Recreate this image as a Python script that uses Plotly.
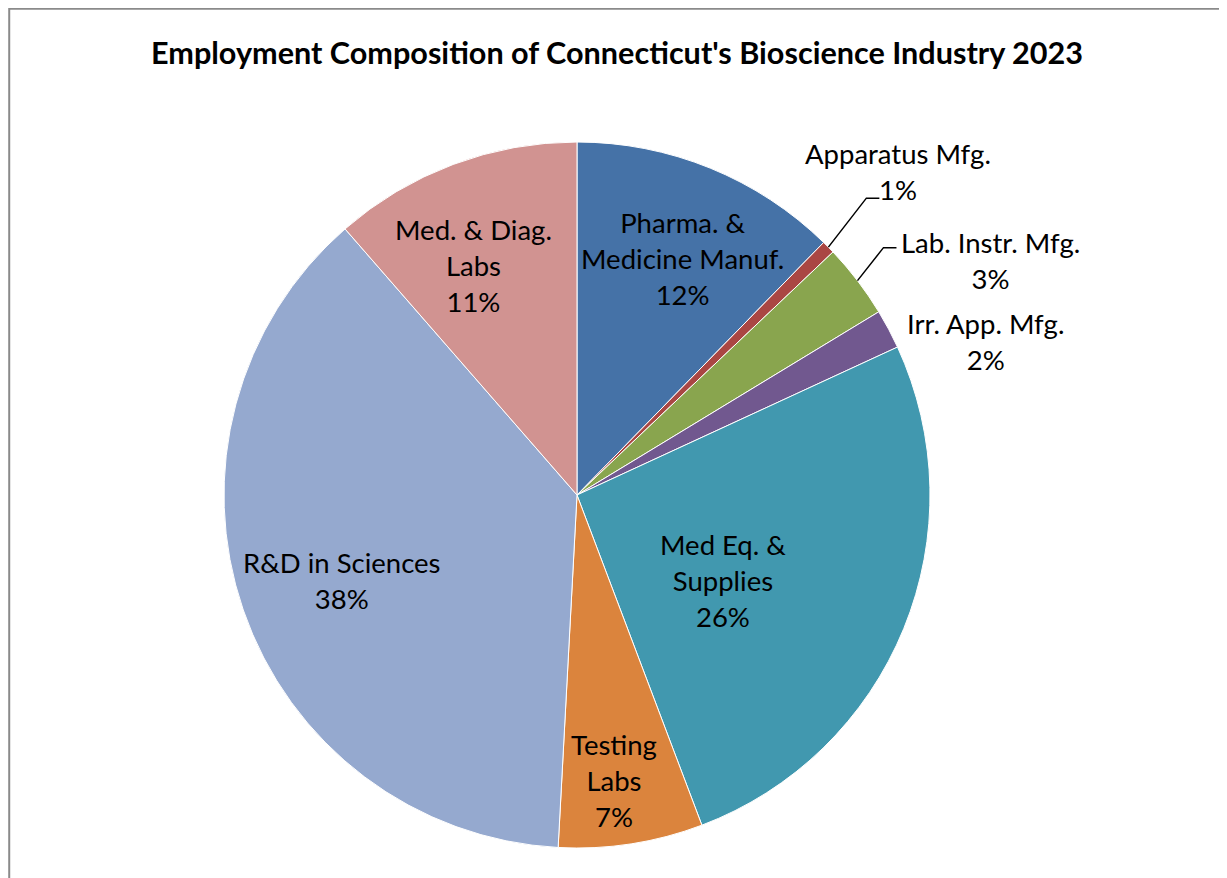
import math
import plotly.graph_objects as go

# employment share by sector (percent), clockwise from 12 o'clock
labels = [
    "Pharma. &<br>Medicine Manuf.",
    "Apparatus Mfg.",
    "Lab. Instr. Mfg.",
    "Irr. App. Mfg.",
    "Med Eq. &<br>Supplies",
    "Testing<br>Labs",
    "R&D in Sciences",
    "Med. & Diag.<br>Labs",
]
shares = [12.3, 0.6, 3.4, 1.8, 26.1, 6.6, 37.7, 11.4]
colors = ["#4572A7", "#AA4643", "#89A54E", "#71588F",
          "#4198AF", "#DB843D", "#95A9CF", "#D19391"]

# the page body adds an 8px margin, so the figure is drawn 8px in
OFF = 8
W, H = 1227 - OFF, 878 - OFF
CX, CY, R = 577, 495, 353  # pie centre / radius in screen px

# label placement: radius factor and angle nudge (deg) per slice
label_r = [0.735, 1.29, 1.346, 1.235, 0.48, 0.816, 0.708, 0.714]
label_da = [1.9, -0.6, 7.8, 7.4, 8.2, 1.4, -0.9, -3.6]
leader = [False, True, True, False, False, False, False, False]
leader_off = {1: (38, -49), 2: (26, -33)}

FONT = "Lato, Carlito, Calibri, sans-serif"


def px_to_paper(x, y):
    return (x - OFF) / W, 1 - (y - OFF) / H


x0, y1 = px_to_paper(CX - R, CY - R)
x1, y0 = px_to_paper(CX + R, CY + R)

fig = go.Figure(
    go.Pie(
        labels=[l.replace("<br>", " ") for l in labels],
        values=shares,
        sort=False,
        direction="clockwise",
        rotation=0,
        marker=dict(colors=colors, line=dict(color="white", width=1)),
        textinfo="none",
        hoverinfo="label+percent",
        showlegend=False,
        domain=dict(x=[x0, x1], y=[y0, y1]),
    )
)

total = sum(shares)
annotations = []
shapes = []
cum = 0
for i, (lab, v) in enumerate(zip(labels, shares)):
    mid = (cum + v / 2) / total * 360
    cum += v
    pct = f"{round(v / total * 100)}%"
    ang = math.radians(mid + label_da[i])
    lx = CX + R * label_r[i] * math.sin(ang)
    ly = CY - R * label_r[i] * math.cos(ang)
    px, py = px_to_paper(lx, ly)
    annotations.append(dict(
        x=px, y=py, xref="paper", yref="paper", showarrow=False,
        xanchor="center", yanchor="middle",
        text=f"{lab}<br>{pct}", align="center",
        font=dict(family=FONT, size=27.5, color="black"),
    ))
    if leader[i]:
        m = math.radians(mid)
        sx = CX + R * math.sin(m)
        sy = CY - R * math.cos(m)
        ox, oy = leader_off[i]
        ex, ey = sx + ox, sy + oy
        pts = [px_to_paper(sx, sy), px_to_paper(ex, ey), px_to_paper(ex + 13, ey)]
        path = "M {} {} L {} {} L {} {}".format(*[c for p in pts for c in p])
        shapes.append(dict(type="path", xref="paper", yref="paper", path=path,
                           line=dict(color="black", width=1.5)))

# chart frame (clipped at right/bottom like the source)
shapes.append(dict(type="rect", xref="paper", yref="paper",
                   x0=0.001, x1=1.02, y0=-0.02, y1=0.999,
                   line=dict(color="#8a8a8a", width=2)))

tx, ty = px_to_paper(617, 53)
fig.update_layout(
    width=W, height=H,
    margin=dict(l=0, r=0, t=0, b=0),
    paper_bgcolor="white",
    title=dict(
        text="<b>Employment Composition of Connecticut's Bioscience Industry 2023</b>",
        x=tx, y=ty, xanchor="center", yanchor="middle",
        font=dict(family=FONT, size=30.6, color="black"),
    ),
    annotations=annotations,
    shapes=shapes,
)

fig.write_html("out.html")
